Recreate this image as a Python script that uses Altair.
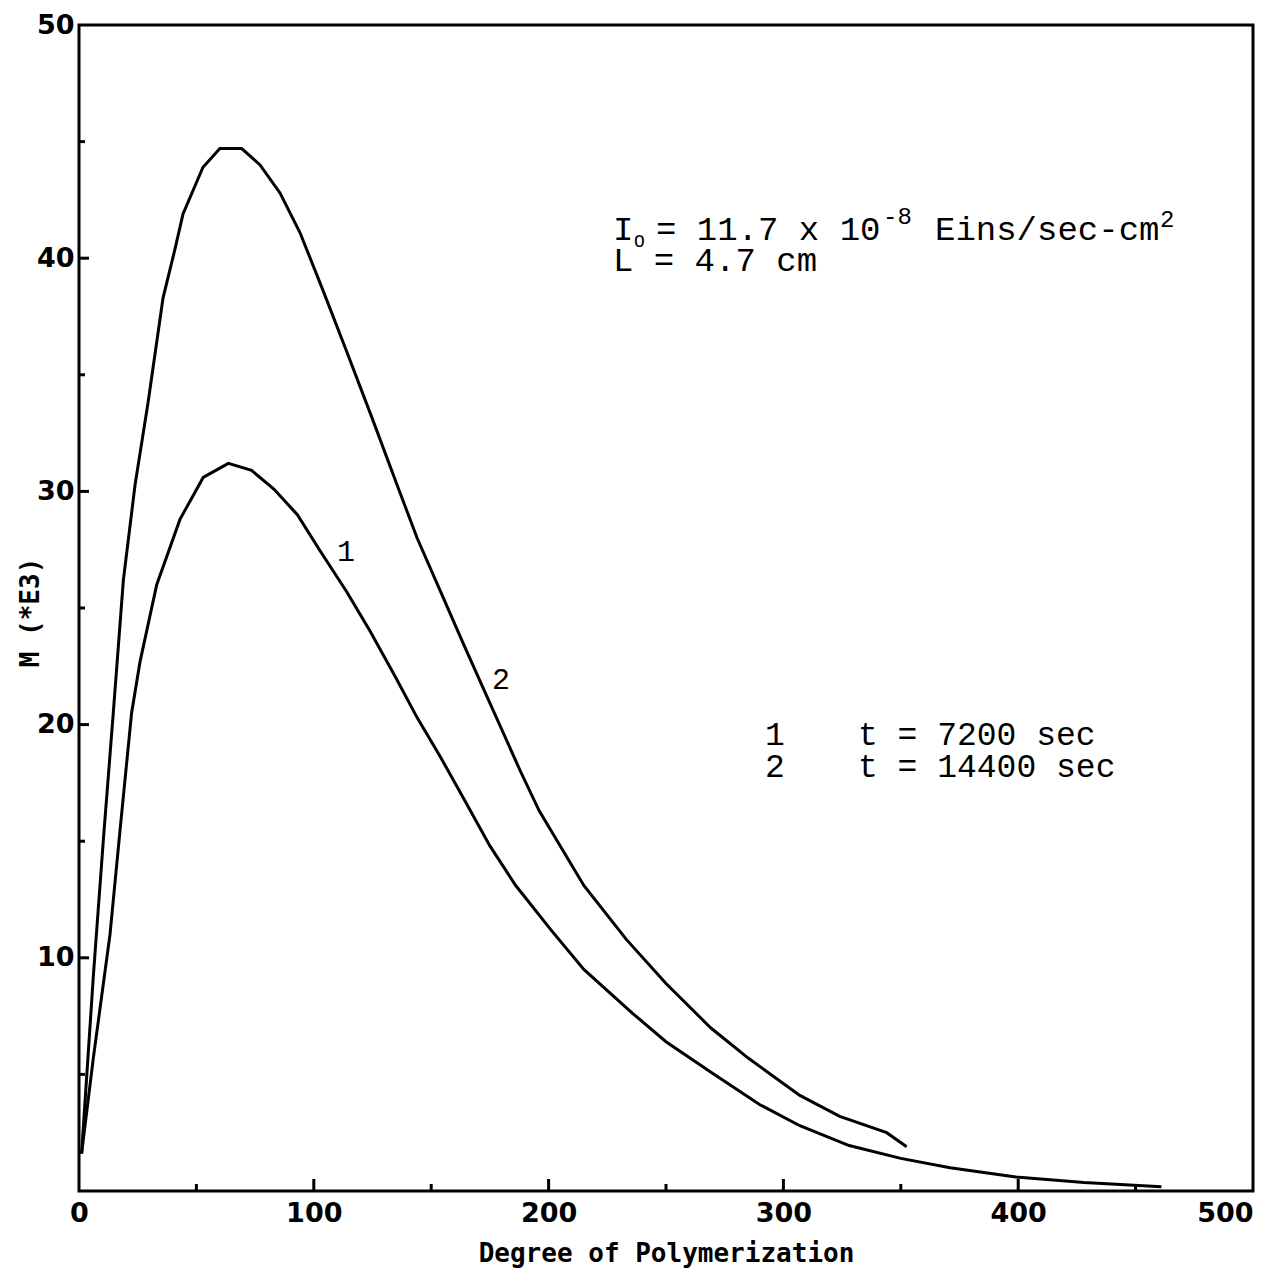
import altair as alt
import pandas as pd

# ---- data ----
curve1_x = [1.1, 6.1, 13.2, 17.5, 22.4, 26.0, 33.1, 43.0, 52.9, 63.6, 73.5, 83.0, 93.0, 103.0, 114.0,
            124.0, 135.0, 144.0, 154.0, 164.0, 175.0, 186.0, 201.0, 215.0, 236.0, 250.0, 269.0, 290.0,
            307.0, 328.0, 350.0, 371.0, 399.0, 428.0, 461.0]
curve1_y = [1.6, 5.7, 11.0, 15.5, 20.5, 22.7, 26.0, 28.8, 30.6, 31.2, 30.9, 30.1, 29.0, 27.4, 25.7,
            24.0, 22.0, 20.3, 18.6, 16.8, 14.8, 13.1, 11.2, 9.5, 7.6, 6.4, 5.1, 3.7,
            2.8, 1.95, 1.4, 1.0, 0.6, 0.36, 0.18]

curve2_x = [1.1, 6.1, 10.4, 14.6, 18.9, 23.9, 29.4, 35.8, 40.9, 44.3, 52.8, 60.0, 69.3, 77.1, 85.6,
            94.1, 104.0, 114.0, 125.0, 135.0, 144.0, 154.0, 164.0, 172.0, 188.0, 196.0, 215.0, 233.0,
            250.0, 269.0, 285.0, 307.0, 324.0, 344.0, 352.5]
curve2_y = [1.6, 9.2, 15.1, 20.5, 26.2, 30.3, 33.8, 38.3, 40.4, 41.9, 43.9, 44.7, 44.7, 44.0, 42.8,
            41.1, 38.6, 36.0, 33.1, 30.4, 28.0, 25.7, 23.4, 21.6, 18.0, 16.3, 13.1, 10.8,
            8.9, 7.0, 5.7, 4.1, 3.2, 2.5, 1.9]

series_names = ["t = 7200 sec", "t = 14400 sec"]

x_major_ticks = [100, 200, 300, 400]
x_minor_ticks = [50, 150, 250, 350, 450]
y_major_ticks = [10, 20, 30, 40]
y_minor_ticks = [5, 15, 25, 35, 45]
x_labels = [0, 100, 200, 300, 400, 500]
y_labels = [10, 20, 30, 40, 50]

W, H = 1174, 1166

rows = []
for xv, yv in zip(curve1_x, curve1_y):
    rows.append({"dp": xv, "m": yv, "series": series_names[0]})
for xv, yv in zip(curve2_x, curve2_y):
    rows.append({"dp": xv, "m": yv, "series": series_names[1]})
df = pd.DataFrame(rows)

LABEL_FONT = "DejaVu Sans"
TITLE_FONT = "DejaVu Sans Mono, Liberation Mono, monospace"
TYPE_FONT = "Liberation Mono, DejaVu Sans Mono, monospace"

xscale = alt.Scale(domain=[0, 500], nice=False, zero=False)
yscale = alt.Scale(domain=[0, 50], nice=False, zero=False)

x_axis = alt.Axis(values=x_labels, domain=False, ticks=False, grid=False,
                  labelFont=LABEL_FONT, labelFontSize=27, labelFontWeight="bold",
                  labelColor="black", labelPadding=9, labelFlush=False,
                  labelAlign=alt.ExprRef("datum.value >= 500 ? 'right' : 'center'"),
                  title="Degree of Polymerization", titleFont=TITLE_FONT, titleFontSize=26,
                  titleFontWeight="bold", titleColor="black", titleBaseline="top",
                  titleY=49)
y_axis = alt.Axis(values=y_labels, domain=False, ticks=False, grid=False,
                  labelFont=LABEL_FONT, labelFontSize=27, labelFontWeight="bold",
                  labelColor="black", labelPadding=5, labelFlush=False,
                  title="M (*E3)", titleFont=TITLE_FONT, titleFontSize=26,
                  titleFontWeight="bold", titleColor="black", titleAngle=270,
                  titleBaseline="middle", titleAlign="center", titleX=-49, titleY=587)

lines = alt.Chart(df).mark_line(color="black", strokeWidth=3, interpolate="linear").encode(
    x=alt.X("dp:Q", scale=xscale, axis=x_axis),
    y=alt.Y("m:Q", scale=yscale, axis=y_axis),
    detail="series:N",
    order="dp:Q",
)

def xticks(vals, length):
    return alt.Chart(pd.DataFrame({"v": vals})).mark_rule(color="black", strokeWidth=3).encode(
        x=alt.X("v:Q", scale=xscale), y=alt.value(H), y2=alt.value(H - length))

def yticks(vals, length):
    return alt.Chart(pd.DataFrame({"v": vals})).mark_rule(color="black", strokeWidth=3).encode(
        y=alt.Y("v:Q", scale=yscale), x=alt.value(0), x2=alt.value(length))

def label(text, px, py, size, font=TYPE_FONT):
    return alt.Chart(pd.DataFrame({"t": [text]})).mark_text(
        align="left", baseline="alphabetic", font=font, fontSize=size, color="black"
    ).encode(text="t:N", x=alt.value(px), y=alt.value(py))

texts = [
    label("I", 534, 215, 34),
    label("O", 555, 222, 18),
    label("= 11.7 x 10", 577, 215, 34),
    label("-8", 804, 199, 24),
    label("Eins/sec-cm", 856, 215, 34),
    label("2", 1081, 202, 24),
    label("L = 4.7 cm", 534, 246, 34),
    label("1", 686, 720, 33),
    label(series_names[0], 779, 720, 33),
    label("2", 686, 752, 33),
    label(series_names[1], 779, 752, 33),
    label("1", 258, 536, 30),
    label("2", 413, 664, 30),
]

chart = alt.layer(
    lines,
    xticks(x_major_ticks, 12), xticks(x_minor_ticks, 7),
    yticks(y_major_ticks, 10), yticks(y_minor_ticks, 6),
    *texts,
).properties(
    width=W, height=H,
    autosize=alt.AutoSizeParams(type="none"),
    padding={"left": 71, "top": 17, "right": 17, "bottom": 80},
    background="white",
).configure_view(stroke="black", strokeWidth=3)

chart.save("out.html", embed_options={"renderer": "svg", "actions": False})
